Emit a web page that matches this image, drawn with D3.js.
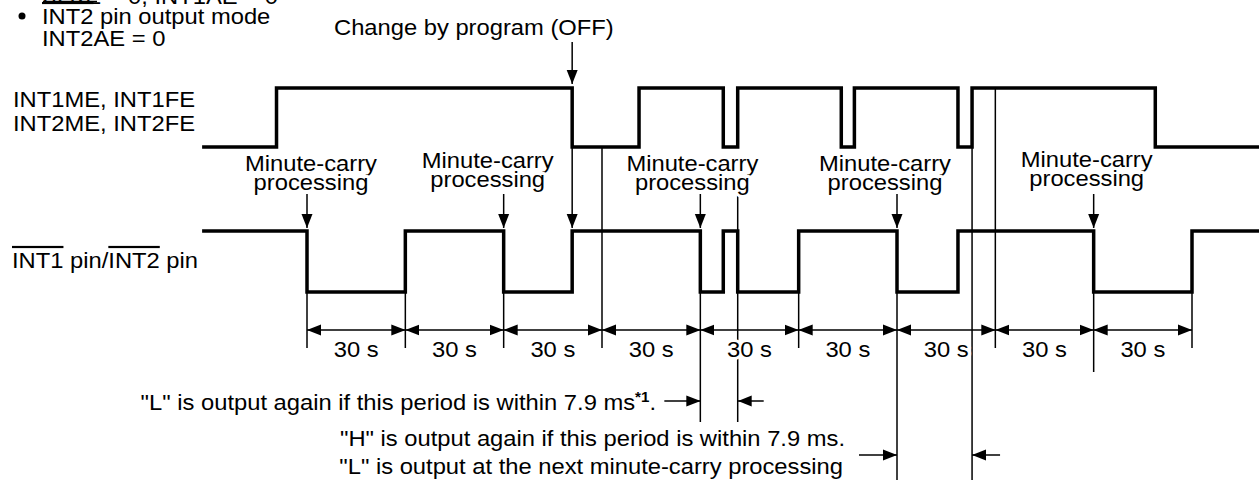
<!DOCTYPE html>
<meta charset="utf-8">
<style>
  body { margin: 0; background: #fff; }
  text { font-family: "Liberation Sans", Arial, sans-serif; font-size: 22px; fill: #000; }
</style>
<body>
<script src="https://d3js.org/d3.v7.min.js"></script>
<script>

// timing data (seconds, 0 = first minute-carry)
var gridTimes = [0, 30, 60, 90, 120, 150, 180, 210, 240, 270];
var carryTimes = [0, 60, 120, 180, 240];
var enableTimes = [-32, -9.3, 80.9, 101.3, 127, 131.4, 163, 167, 198.6, 202.9, 258.8];
var enableVals  = [0, 1, 0, 1, 0, 1, 0, 1, 0, 1, 0];
var pinTimes = [-32, 0, 30, 60, 80.9, 120, 127, 131.4, 150, 180, 198.6, 240, 270];
var pinVals  = [1, 0, 1, 0, 1, 0, 1, 0, 1, 0, 1, 0, 1];
var endTime = 290.5;
var offTime = 80.9;           // change by program (OFF)
var lAgain = [120, 131.4];    // "L" output again window
var hAgain = [180, 202.9];    // "H" output again window
var periodLabel = "30 s";

var width = 1259, height = 480;
var sx = 1.08; // text is a bit wide in the source

var svg = d3.select("body").append("svg")
    .attr("width", width)
    .attr("height", height);

var x = d3.scaleLinear().domain([0, 270]).range([307, 1192]);
var yTop = d3.scaleLinear().domain([0, 1]).range([147, 88]);
var yPin = d3.scaleLinear().domain([0, 1]).range([292, 231]);

var defs = svg.append("defs");
defs.append("marker")
    .attr("id", "head")
    .attr("markerUnits", "userSpaceOnUse")
    .attr("viewBox", "0 -6 14 12")
    .attr("refX", 14).attr("refY", 0)
    .attr("markerWidth", 14).attr("markerHeight", 12)
    .attr("orient", "auto-start-reverse")
  .append("path")
    .attr("d", "M0,-5.5L14,0L0,5.5Z")
    .attr("fill", "#000");

function levelAt(times, vals, t) {
  var v = vals[0];
  times.forEach(function(d, i) { if (d <= t) v = vals[i]; });
  return v;
}

function txt(g, px, py, s, anchor) {
  return g.append("text")
      .attr("transform", "translate(" + px + "," + py + ") scale(" + sx + ",1)")
      .attr("text-anchor", anchor || "start")
      .text(s);
}

// thin guide lines
var thin = svg.append("g").attr("stroke", "#000").attr("stroke-width", 1.5);

gridTimes.forEach(function(t) {
  var onPin = pinTimes.indexOf(t) >= 0;
  var y0 = onPin ? yPin(1) : yTop(levelAt(enableTimes, enableVals, t));
  var y1 = 348;
  if (t === lAgain[0]) y1 = 422;
  if (t === hAgain[0]) y1 = 480;
  if (t === 240) y1 = 372;
  thin.append("line").attr("x1", x(t)).attr("x2", x(t)).attr("y1", y0).attr("y2", y1);
});

thin.append("line").attr("x1", x(lAgain[1])).attr("x2", x(lAgain[1]))
    .attr("y1", 194).attr("y2", 422);
thin.append("line").attr("x1", x(hAgain[1])).attr("x2", x(hAgain[1]))
    .attr("y1", yTop(0)).attr("y2", 480);

// 30 s dimension arrows
d3.pairs(gridTimes).forEach(function(p) {
  thin.append("line")
      .attr("x1", x(p[0])).attr("x2", x(p[1]))
      .attr("y1", 330).attr("y2", 330)
      .attr("marker-start", "url(#head)")
      .attr("marker-end", "url(#head)");
});

// window brackets
function bracket(a, b, yy, lenL, lenR) {
  thin.append("line").attr("x1", x(a) - lenL).attr("x2", x(a))
      .attr("y1", yy).attr("y2", yy).attr("marker-end", "url(#head)");
  thin.append("line").attr("x1", x(b) + lenR).attr("x2", x(b))
      .attr("y1", yy).attr("y2", yy).attr("marker-end", "url(#head)");
}
bracket(lAgain[0], lAgain[1], 401, 36, 26);
bracket(hAgain[0], hAgain[1], 455, 38, 28);

// minute-carry arrows
carryTimes.forEach(function(t) {
  thin.append("line").attr("x1", x(t)).attr("x2", x(t))
      .attr("y1", 194).attr("y2", yPin(1) - 3)
      .attr("marker-end", "url(#head)");
});

// program change arrows
thin.append("line").attr("x1", x(offTime)).attr("x2", x(offTime))
    .attr("y1", 42).attr("y2", yTop(1) - 4).attr("marker-end", "url(#head)");
thin.append("line").attr("x1", x(offTime)).attr("x2", x(offTime))
    .attr("y1", yTop(0)).attr("y2", yPin(1) - 3).attr("marker-end", "url(#head)");

// texts (white halo masks guide lines behind them)
var labels = svg.append("g")
    .attr("stroke", "#fff").attr("stroke-width", 6)
    .attr("paint-order", "stroke").attr("stroke-linejoin", "round");

var carryShift = [4, -16, -8, -12, -7];
var carryBase = [171, 168, 171, 171, 167];
carryTimes.forEach(function(t, i) {
  txt(labels, x(t) + carryShift[i], carryBase[i], "Minute-carry", "middle");
  txt(labels, x(t) + carryShift[i], carryBase[i] + 19, "processing", "middle");
});

d3.pairs(gridTimes).forEach(function(p) {
  txt(labels, (x(p[0]) + x(p[1])) / 2, 357, periodLabel, "middle");
});

var plain = svg.append("g");

txt(plain, 43, 4, "32KE = 0, INT1AE = 0");
plain.append("line").attr("x1", 43).attr("x2", 97).attr("y1", 1.5).attr("y2", 1.5)
    .attr("stroke", "#000").attr("stroke-width", 1.5);
plain.append("circle").attr("cx", 22).attr("cy", 16).attr("r", 3.5).attr("fill", "#000");

var t1 = txt(plain, 42, 24, "");
t1.append("tspan").style("text-decoration", "overline").text("INT2");
t1.append("tspan").text(" pin output mode");
txt(plain, 42, 46, "INT2AE = 0");

txt(plain, 334, 35, "Change by program (OFF)");
txt(plain, 13, 107, "INT1ME, INT1FE");
txt(plain, 13, 131, "INT2ME, INT2FE");

var t2 = txt(plain, 12, 268, "");
t2.append("tspan").style("text-decoration", "overline").text("INT1");
t2.append("tspan").text(" pin/");
t2.append("tspan").style("text-decoration", "overline").text("INT2");
t2.append("tspan").text(" pin");

var t3 = txt(plain, 656, 410, "", "end");
t3.append("tspan").text("\"L\" is output again if this period is within 7.9 ms");
t3.append("tspan").attr("dy", -8).style("font-size", "14px").style("font-weight", "bold").text("*1");
t3.append("tspan").attr("dy", 8).text(".");

txt(plain, 845, 446, "\"H\" is output again if this period is within 7.9 ms.", "end");
txt(plain, 843, 474, "\"L\" is output at the next minute-carry processing", "end");

// waveforms
var line = d3.line()
    .x(function(d) { return x(d[0]); })
    .y(function(d) { return d[2](d[1]); })
    .curve(d3.curveStepAfter);

function wave(times, vals, ys) {
  var pts = times.map(function(t, i) { return [t, vals[i], ys]; });
  pts.push([endTime, vals[vals.length - 1], ys]);
  svg.append("path")
      .attr("d", line(pts))
      .attr("fill", "none")
      .attr("stroke", "#000")
      .attr("stroke-width", 3.5)
      .attr("stroke-linejoin", "miter");
}
wave(enableTimes, enableVals, yTop);
wave(pinTimes, pinVals, yPin);

</script>
</body>
